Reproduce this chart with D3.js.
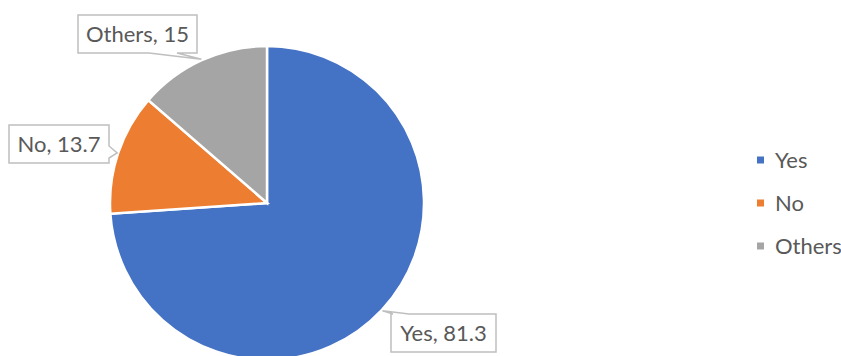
<!DOCTYPE html>
<html>
<head>
<meta charset="utf-8">
<script src="https://cdn.jsdelivr.net/npm/d3@7"></script>
<style>
  html, body { margin: 0; padding: 0; background: #ffffff; }
  svg { display: block; }
  text { font-family: Lato, "Open Sans", sans-serif; fill: #595959; }
</style>
</head>
<body>
<svg id="chart" width="841" height="356"></svg>
<script>
// Survey answers
const categories = ["Yes", "No", "Others"];
const values = [81.3, 13.7, 15];
const colors = ["#4472C4", "#ED7D31", "#A5A5A5"];

const width = 841, height = 356;
const cx = 267, cy = 203, radius = 157;
const fontSize = 22;

const svg = d3.select("#chart");

const pie = d3.pie().sort(null).value(d => d.value);
const arcs = pie(categories.map((c, i) => ({ name: c, value: values[i], color: colors[i] })));

const arc = d3.arc().innerRadius(0).outerRadius(radius);

const g = svg.append("g").attr("transform", `translate(${cx},${cy})`);

g.selectAll("path.slice")
  .data(arcs)
  .join("path")
  .attr("class", "slice")
  .attr("d", arc)
  .attr("fill", d => d.data.color)
  .attr("stroke", "#ffffff")
  .attr("stroke-width", 2.5)
  .attr("stroke-linejoin", "miter");

// Callout labels: box placement relative to the slice's outer mid-point
const calloutLayout = {
  "Yes":    { x: 391, y: 314, w: 105, h: 38, side: "top",    base: [393, 409] },
  "No":     { x: 9,   y: 125, w: 100, h: 38, side: "right",  base: [146, 158] },
  "Others": { x: 78,  y: 15,  w: 119, h: 38, side: "bottom", base: [149, 177] }
};

function calloutPath(b, tip) {
  const x0 = b.x, y0 = b.y, x1 = b.x + b.w, y1 = b.y + b.h;
  const p = d3.path();
  p.moveTo(x0, y0);
  if (b.side === "top") {
    p.lineTo(b.base[0], y0); p.lineTo(tip[0], tip[1]); p.lineTo(b.base[1], y0);
  }
  p.lineTo(x1, y0);
  if (b.side === "right") {
    p.lineTo(x1, b.base[0]); p.lineTo(tip[0], tip[1]); p.lineTo(x1, b.base[1]);
  }
  p.lineTo(x1, y1);
  if (b.side === "bottom") {
    p.lineTo(b.base[1], y1); p.lineTo(tip[0], tip[1]); p.lineTo(b.base[0], y1);
  }
  p.lineTo(x0, y1);
  p.closePath();
  return p.toString();
}

const labels = svg.append("g");
arcs.forEach(d => {
  const b = calloutLayout[d.data.name];
  const mid = (d.startAngle + d.endAngle) / 2;
  const tip = [cx + (radius + 1) * Math.sin(mid), cy - (radius + 1) * Math.cos(mid)];
  labels.append("path")
    .attr("d", calloutPath(b, tip))
    .attr("fill", "#ffffff")
    .attr("stroke", "#bfbfbf")
    .attr("stroke-width", 1.5);
  labels.append("text")
    .attr("x", b.x + b.w / 2)
    .attr("y", b.y + b.h / 2)
    .attr("dy", "0.36em")
    .attr("text-anchor", "middle")
    .attr("font-size", fontSize)
    .text(`${d.data.name}, ${d.data.value}`);
});

// Legend
const legendY = d3.scalePoint().domain(categories).range([160, 246]);
const legend = svg.append("g");
categories.forEach((c, i) => {
  legend.append("rect")
    .attr("x", 757).attr("y", legendY(c) - 3.5)
    .attr("width", 7).attr("height", 7)
    .attr("fill", colors[i]);
  legend.append("text")
    .attr("x", 775).attr("y", legendY(c))
    .attr("dy", "0.36em")
    .attr("font-size", fontSize)
    .text(c);
});
</script>
</body>
</html>
